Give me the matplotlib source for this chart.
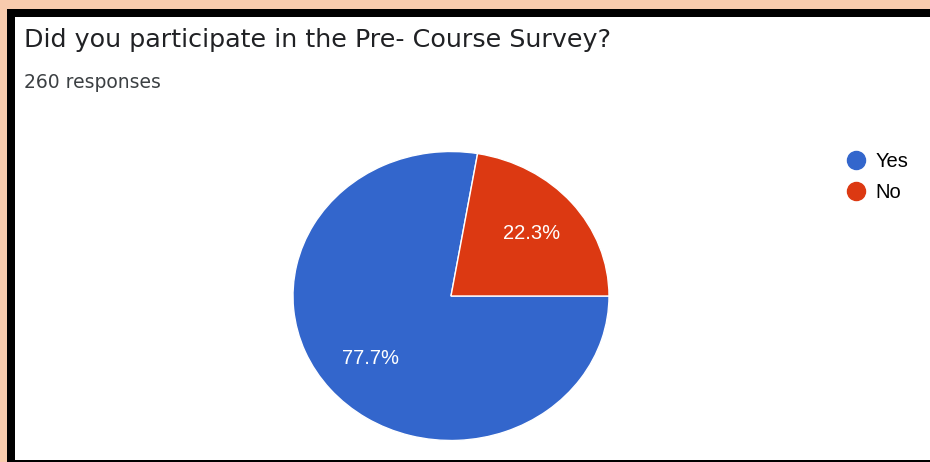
import matplotlib.pyplot as plt
from matplotlib.lines import Line2D
from matplotlib.patches import Rectangle

title = "Did you participate in the Pre- Course Survey?"
subtitle = "260 responses"
labels = ["Yes", "No"]
counts = [202, 58]
colors = ["#3366cc", "#dc3912"]

W, H = 930, 462
fig = plt.figure(figsize=(W / 100, H / 100), dpi=100)
fig.patch.set_facecolor("#f8cbad")

# black frame and white card (pixel coords -> figure fraction)
def px_rect(x0, y0, x1, y1, color):
    fig.add_artist(Rectangle((x0 / W, 1 - y1 / H), (x1 - x0) / W, (y1 - y0) / H,
                             transform=fig.transFigure, color=color, lw=0, zorder=0))

px_rect(7, 9, W, H, "black")
px_rect(15, 17, W, 460, "white")

fig.text(24 / W, 1 - 40 / H, title, fontsize=18.3, family="DejaVu Sans",
         color="#202124", va="center", ha="left")
fig.text(24 / W, 1 - 83 / H, subtitle, fontsize=13.5, family="DejaVu Sans",
         color="#3c4043", va="center", ha="left")

# pie is slightly stretched horizontally in the screenshot
cx, cy, rx, ry = 451, 296, 158, 144.5
ax = fig.add_axes([(cx - rx) / W, 1 - (cy + ry) / H, 2 * rx / W, 2 * ry / H])
wedges, _, autotexts = ax.pie(counts, colors=colors, startangle=360 * counts[1] / sum(counts),
                              counterclock=True, autopct="%1.1f%%", pctdistance=0.67,
                              wedgeprops=dict(edgecolor="white", linewidth=1),
                              textprops=dict(color="white", fontsize=14.5, family="Liberation Sans"))
ax.set_aspect("auto")
ax.set_xlim(-1, 1)
ax.set_ylim(-1, 1)
ax.axis("off")

handles = [Line2D([], [], marker="o", linestyle="", markersize=13, color=c) for c in colors]
fig.legend(handles, labels, loc="upper left", bbox_to_anchor=(836 / W, 1 - 144 / H),
           frameon=False, prop=dict(family="Liberation Sans", size=14.5),
           handletextpad=0.35, labelspacing=0.6, handlelength=1.2, borderaxespad=0)

fig.savefig("out.png", dpi=100, facecolor=fig.get_facecolor())
